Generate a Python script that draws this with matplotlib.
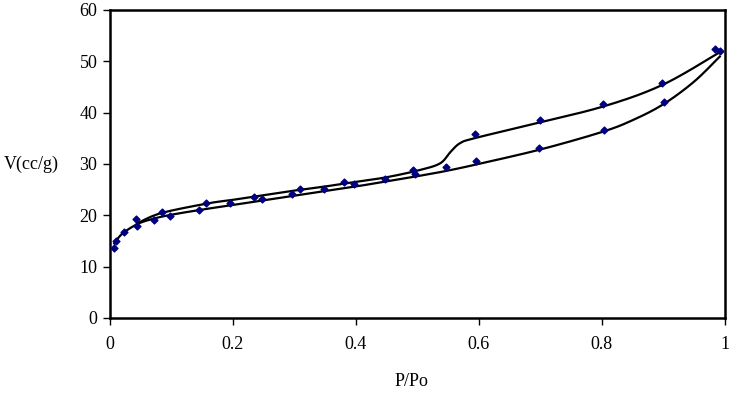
import numpy as np
import matplotlib
matplotlib.use("Agg")
import matplotlib.pyplot as plt

plt.rcParams['font.family'] = ['Liberation Serif', 'DejaVu Serif']

# measured points, adsorption branch
ads_x = [0.0065, 0.0093, 0.023, 0.044, 0.072, 0.097, 0.145, 0.195, 0.247, 0.296,
         0.348, 0.397, 0.447, 0.496, 0.546, 0.595, 0.698, 0.803, 0.902, 0.992]
ads_y = [13.7, 14.9, 16.8, 17.9, 19.1, 19.9, 21.0, 22.3, 23.2, 24.2,
         25.2, 26.1, 27.1, 28.0, 29.3, 30.5, 33.0, 36.6, 42.1, 52.0]

# measured points, desorption branch
des_x = [0.043, 0.084, 0.157, 0.234, 0.309, 0.380, 0.493, 0.593, 0.699, 0.802, 0.898, 0.984]
des_y = [19.3, 20.7, 22.3, 23.6, 25.1, 26.4, 28.8, 35.8, 38.6, 41.7, 45.8, 52.3]

# fitted curves
ads_fit_x = [0.007, 0.02, 0.045, 0.07, 0.1, 0.15, 0.2, 0.25, 0.3, 0.35, 0.4, 0.45,
             0.5, 0.55, 0.6, 0.7, 0.8, 0.85, 0.9, 0.95, 0.992]
ads_fit_y = [14.5, 16.4, 18.3, 19.3, 20.1, 21.1, 22.0, 22.9, 23.8, 24.7, 25.6, 26.6,
             27.6, 28.7, 30.0, 32.8, 36.2, 38.5, 41.6, 46.0, 50.9]

des_fit_x = [0.044, 0.083, 0.159, 0.2, 0.25, 0.3, 0.35, 0.4, 0.45, 0.504, 0.537,
             0.553, 0.569, 0.593, 0.683, 0.803, 0.899, 0.99]
des_fit_y = [18.4, 20.4, 22.3, 23.0, 23.9, 24.8, 25.6, 26.5, 27.4, 28.8, 30.1,
             32.2, 34.0, 35.0, 37.6, 41.2, 45.4, 51.6]


def smooth(x, y, n=20):
    # Catmull-Rom through the nodes, like a smoothed line
    p = np.column_stack([x, y])
    p = np.vstack([p[0], p, p[-1]])
    out = []
    t = np.linspace(0, 1, n, endpoint=False)[:, None]
    for i in range(1, len(p) - 2):
        p0, p1, p2, p3 = p[i - 1], p[i], p[i + 1], p[i + 2]
        seg = 0.5 * ((2 * p1) + (-p0 + p2) * t + (2 * p0 - 5 * p1 + 4 * p2 - p3) * t ** 2
                     + (-p0 + 3 * p1 - 3 * p2 + p3) * t ** 3)
        out.append(seg)
    out.append(p[-2][None, :])
    out = np.vstack(out)
    return out[:, 0], out[:, 1]


fig = plt.figure(figsize=(7.38, 3.93), dpi=100)
ax = fig.add_axes([0.149, 0.191, 0.833, 0.784])

sx, sy = smooth(ads_fit_x, ads_fit_y)
ax.plot(sx, sy, color='black', lw=1.6)
sx, sy = smooth(des_fit_x, des_fit_y)
ax.plot(sx, sy, color='black', lw=1.6)

ax.scatter(ads_x, ads_y, marker='D', s=12, color='#000080', zorder=3)
ax.scatter(des_x, des_y, marker='D', s=12, color='#000080', zorder=3)

ax.set_xlim(0, 1)
ax.set_ylim(0, 60)
ax.set_xticks([0, 0.2, 0.4, 0.6, 0.8, 1])
ax.set_xticklabels(['0', '0.2', '0.4', '0.6', '0.8', '1'])
ax.set_yticks(range(0, 61, 10))
ax.tick_params(direction='out', length=5, width=1, labelsize=13, color='black')
ax.tick_params(axis='x', pad=8)
ax.tick_params(axis='y', pad=4)
for s in ax.spines.values():
    s.set_linewidth(1.8)

ax.set_xlabel('P/Po', fontsize=13)
ax.xaxis.set_label_coords(0.49, -0.18)
ax.set_ylabel('V(cc/g)', fontsize=13, rotation=0, va='center')
ax.yaxis.set_label_coords(-0.128, 0.5)

fig.savefig('out.png', dpi=100)
